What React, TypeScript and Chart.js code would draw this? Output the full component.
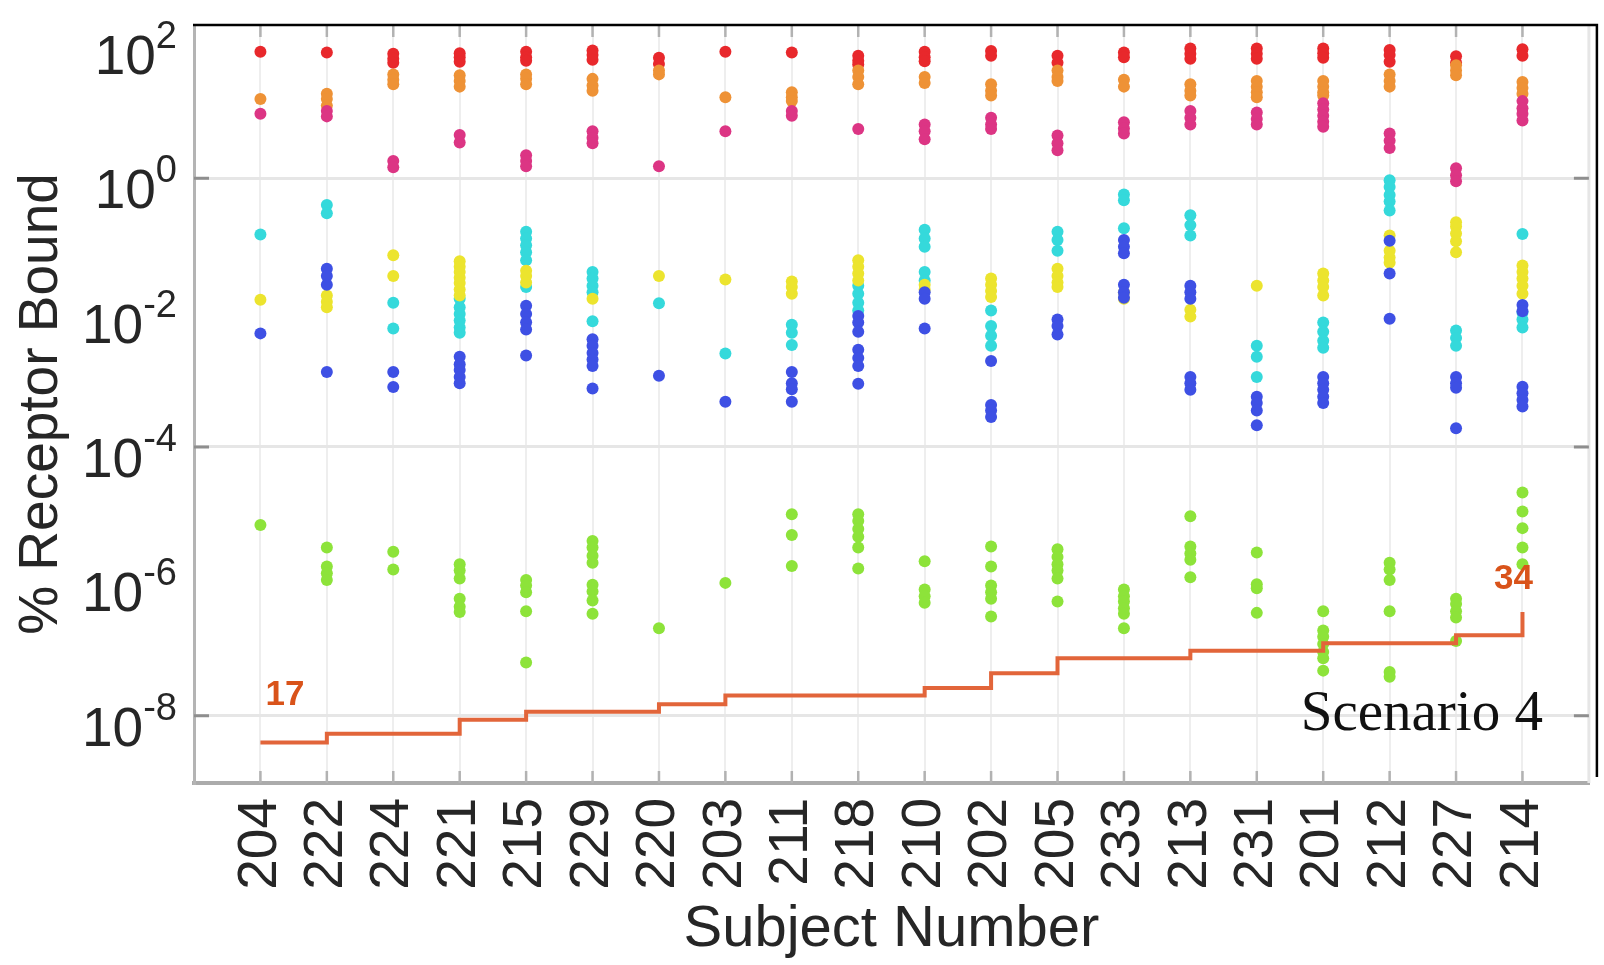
import { useEffect, useRef } from 'react';
import { Chart, registerables } from 'chart.js';

Chart.register(...registerables);

const SANS = "'Liberation Sans', Arial, Helvetica, sans-serif";
const SERIF = "'Liberation Serif', 'Times New Roman', serif";

const subjects = ['204', '222', '224', '221', '215', '229', '220', '203', '211', '218', '210', '202', '205', '233', '213', '231', '201', '212', '227', '214'];

const yTickValues = [1e2, 1e0, 1e-2, 1e-4, 1e-6, 1e-8];
const yTickExponents = ['2', '0', '-2', '-4', '-6', '-8'];
const yGridValues = [1e0, 1e-4, 1e-8];

const redVals: number[][] = [
  [76], [74], [71, 60, 52], [72, 63, 54], [76, 63, 56], [79, 68, 58], [62, 50], [76], [74], [66, 56, 49],
  [76, 63, 55], [78, 66], [66, 52], [74, 63], [85, 71, 60], [85, 71, 60], [85, 72, 62], [81, 68, 54], [65, 52], [83, 66],
];

const orangeVals: number[][] = [
  [15], [18, 15, 12], [35, 29, 25], [34, 28, 23], [35, 30, 25], [30, 24, 20], [40, 35], [16], [19, 16, 14], [40, 32, 25],
  [32, 26], [25, 20, 17], [40, 32, 28], [29, 23], [25, 20, 17], [28, 23, 19, 16], [28, 23, 19, 17], [35, 28, 23], [48, 40, 34], [27, 22, 18],
];

const magentaVals: number[][] = [
  [9.1], [10, 8.3], [1.8, 1.45], [4.4, 3.4], [2.2, 1.8, 1.5], [5.0, 4.0, 3.3], [1.5], [5.0], [10, 8.5], [5.4],
  [6.3, 5.0, 3.8], [7.9, 6.3, 5.4], [4.3, 3.3, 2.6], [6.8, 5.5, 4.6], [10, 7.9, 6.3], [9.5, 7.6, 6.3], [13, 10.5, 8.5, 6.9, 5.8], [4.6, 3.6, 2.8], [1.4, 1.1, 0.9], [14, 11, 9.1, 7.2],
];

const cyanVals: number[][] = [
  [0.145], [0.4, 0.3], [0.014, 0.0058], [0.016, 0.012, 0.0095, 0.0076, 0.006, 0.005], [0.16, 0.126, 0.1, 0.079, 0.06, 0.024],
  [0.04, 0.032, 0.025, 0.02, 0.0074], [0.0138], [0.00245], [0.0066, 0.005, 0.0033], [0.025, 0.019, 0.014, 0.0107],
  [0.17, 0.126, 0.095, 0.04, 0.03], [0.0107, 0.0063, 0.0045, 0.0032], [0.16, 0.12, 0.083], [0.57, 0.47, 0.18], [0.28, 0.2, 0.14],
  [0.0032, 0.0022, 0.0011], [0.0071, 0.0052, 0.0038, 0.003], [0.93, 0.74, 0.56, 0.45, 0.33], [0.0054, 0.0042, 0.0032], [0.148, 0.01, 0.0079, 0.006],
];

const yellowVals: number[][] = [
  [0.0155], [0.018, 0.0145, 0.012], [0.071, 0.035], [0.058, 0.048, 0.04, 0.033, 0.0275, 0.022, 0.018], [0.042, 0.035, 0.028],
  [0.016], [0.035], [0.031], [0.029, 0.024, 0.019], [0.06, 0.048, 0.038, 0.03],
  [0.026, 0.022], [0.032, 0.026, 0.021, 0.017], [0.045, 0.035, 0.028, 0.024], [0.02, 0.016], [0.011, 0.0087],
  [0.025], [0.038, 0.03, 0.024, 0.018], [0.14, 0.083, 0.066, 0.055], [0.22, 0.19, 0.15, 0.115, 0.079], [0.05, 0.04, 0.032, 0.025, 0.019],
];

const blueVals: number[][] = [
  [0.0049], [0.045, 0.035, 0.026, 0.0013], [0.0013, 0.00078], [0.0022, 0.0017, 0.0014, 0.0011, 0.00089], [0.0126, 0.0095, 0.0072, 0.0056, 0.0023],
  [0.004, 0.0032, 0.0025, 0.002, 0.0016, 0.00074], [0.00115], [0.00047], [0.0013, 0.00089, 0.00072, 0.00047], [0.0089, 0.0071, 0.0052, 0.0028, 0.0021, 0.0016, 0.00087],
  [0.02, 0.016, 0.0058], [0.0019, 0.00042, 0.00035, 0.00028], [0.0079, 0.0063, 0.0047], [0.12, 0.095, 0.076, 0.026, 0.02, 0.0166], [0.025, 0.02, 0.016, 0.0011, 0.00089, 0.00071],
  [0.00056, 0.00045, 0.00035, 0.00021], [0.0011, 0.00089, 0.00071, 0.00056, 0.00045], [0.117, 0.038, 0.0081], [0.0011, 0.00089, 0.00076, 0.00019], [0.013, 0.0105, 0.00079, 0.00063, 0.0005, 0.0004],
];

const greenVals: number[][] = [
  [6.9e-6], [3.2e-6, 1.66e-6, 1.32e-6, 1.05e-6], [2.75e-6, 1.5e-6], [1.8e-6, 1.45e-6, 1.1e-6, 5.5e-7, 4.2e-7, 3.5e-7], [1.05e-6, 8.7e-7, 6.9e-7, 3.6e-7, 6.2e-8],
  [4e-6, 3.2e-6, 2.4e-6, 1.9e-6, 8.9e-7, 7.1e-7, 5.2e-7, 3.3e-7], [2.0e-7], [9.5e-7], [1.0e-5, 4.9e-6, 1.7e-6], [1.0e-5, 7.9e-6, 6.0e-6, 4.6e-6, 3.2e-6, 1.55e-6],
  [2.0e-6, 7.6e-7, 6.0e-7, 4.8e-7], [3.3e-6, 1.66e-6, 8.7e-7, 6.9e-7, 5.5e-7, 3.0e-7], [3.0e-6, 2.3e-6, 1.8e-6, 1.45e-6, 1.1e-6, 5e-7], [7.6e-7, 6e-7, 5e-7, 4e-7, 3.3e-7, 2e-7], [9.3e-6, 3.3e-6, 2.6e-6, 2.1e-6, 1.15e-6],
  [2.7e-6, 9.1e-7, 7.9e-7, 3.4e-7], [3.6e-7, 1.86e-7, 1.5e-7, 1.17e-7, 8.9e-8, 7.2e-8, 4.7e-8], [1.9e-6, 1.5e-6, 1.05e-6, 3.6e-7, 4.5e-8, 3.8e-8], [5.5e-7, 4.6e-7, 3.6e-7, 2.9e-7, 1.3e-7], [2.1e-5, 1.1e-5, 6.2e-6, 3.2e-6, 1.8e-6],
];

const stepLine = [4.0e-9, 5.4e-9, 5.4e-9, 8.7e-9, 1.15e-8, 1.15e-8, 1.48e-8, 2.0e-8, 2.0e-8, 2.0e-8, 2.6e-8, 4.3e-8, 7.2e-8, 7.2e-8, 9.3e-8, 9.3e-8, 1.2e-7, 1.2e-7, 1.58e-7, 3.5e-7];
const stepStartLabel = '17';
const stepEndLabel = '34';
const scenarioLabel = 'Scenario 4';

const groups = [
  { name: 'red', vals: redVals, color: '#E8282C' },
  { name: 'orange', vals: orangeVals, color: '#EE9236' },
  { name: 'magenta', vals: magentaVals, color: '#DC3584' },
  { name: 'cyan', vals: cyanVals, color: '#35D9DB' },
  { name: 'yellow', vals: yellowVals, color: '#ECE42E' },
  { name: 'blue', vals: blueVals, color: '#3E50E4' },
  { name: 'green', vals: greenVals, color: '#8DE33A' },
];

const toPoints = (vals: number[][]) => vals.flatMap((arr, i) => arr.map((v) => ({ x: i, y: v })));

const decorPlugin = {
  id: 'decor',
  beforeDatasetsDraw(chart: any) {
    const { ctx, chartArea: a, scales } = chart;
    const xs = scales.x;
    const ys = scales.y;
    ctx.save();
    ctx.strokeStyle = '#e6e6e6';
    ctx.lineWidth = 3;
    ctx.beginPath();
    ctx.moveTo(a.right, a.top);
    ctx.lineTo(a.right, a.bottom);
    ctx.stroke();
    ctx.strokeStyle = '#b2b2b2';
    ctx.lineWidth = 2.5;
    subjects.forEach((_, i) => {
      const px = xs.getPixelForValue(i);
      ctx.beginPath();
      ctx.moveTo(px, a.bottom);
      ctx.lineTo(px, a.bottom - 12);
      ctx.moveTo(px, a.top);
      ctx.lineTo(px, a.top + 12);
      ctx.stroke();
    });
    ctx.strokeStyle = '#8e8e8e';
    ctx.lineWidth = 3;
    yGridValues.forEach((v) => {
      const py = ys.getPixelForValue(v);
      ctx.beginPath();
      ctx.moveTo(a.left, py);
      ctx.lineTo(a.left + 15, py);
      ctx.moveTo(a.right, py);
      ctx.lineTo(a.right - 15, py);
      ctx.stroke();
    });
    ctx.restore();
  },
  afterDraw(chart: any) {
    const { ctx, chartArea: a, scales } = chart;
    const xs = scales.x;
    const ys = scales.y;
    ctx.save();
    ctx.strokeStyle = '#000';
    ctx.lineWidth = 2.5;
    ctx.beginPath();
    ctx.moveTo(a.left - 1, a.top);
    ctx.lineTo(a.right + 8, a.top);
    ctx.lineTo(a.right + 8, a.bottom - 6);
    ctx.stroke();

    ctx.fillStyle = '#262626';
    ctx.textAlign = 'left';
    ctx.textBaseline = 'alphabetic';
    const rightEdge = a.left - 17;
    yTickValues.forEach((v, k) => {
      const py = ys.getPixelForValue(v);
      const exp = yTickExponents[k];
      ctx.font = `38px ${SANS}`;
      const supW = ctx.measureText(exp).width;
      ctx.fillText(exp, rightEdge - supW, py + 4);
      ctx.font = `55px ${SANS}`;
      const baseW = ctx.measureText('10').width;
      ctx.fillText('10', rightEdge - supW - baseW, py + 30);
    });

    ctx.fillStyle = '#D9531A';
    ctx.font = `bold 35px ${SANS}`;
    ctx.textAlign = 'left';
    ctx.fillText(stepStartLabel, xs.getPixelForValue(0) + 5, ys.getPixelForValue(stepLine[0]) - 38);
    ctx.textAlign = 'center';
    ctx.fillText(stepEndLabel, xs.getPixelForValue(19) - 9, ys.getPixelForValue(stepLine[19]) - 23);

    ctx.fillStyle = '#111';
    ctx.font = `57px ${SERIF}`;
    ctx.textAlign = 'right';
    ctx.fillText(scenarioLabel, a.right - 46, ys.getPixelForValue(1e-8) + 14);
    ctx.restore();
  },
};

export default function App() {
  const ref = useRef<HTMLCanvasElement>(null);
  useEffect(() => {
    const canvas = ref.current;
    if (!canvas) return;
    const datasets: any[] = [
      {
        type: 'line',
        label: 'threshold',
        data: stepLine.map((v, i) => ({ x: i, y: v })),
        stepped: 'before',
        borderColor: '#E2653A',
        borderWidth: 4,
        pointRadius: 0,
        fill: false,
      },
      ...groups
        .slice()
        .reverse()
        .map((g) => ({
          type: 'scatter',
          label: g.name,
          data: toPoints(g.vals),
          backgroundColor: g.color,
          borderWidth: 0,
          pointRadius: 6,
          pointHoverRadius: 6,
        })),
    ];
    const chart = new Chart(canvas, {
      type: 'scatter',
      data: { datasets },
      plugins: [decorPlugin],
      options: {
        responsive: false,
        devicePixelRatio: 1,
        animation: false,
        events: [],
        layout: { padding: { left: 0, top: 25, right: 11, bottom: 0 } },
        plugins: { legend: { display: false }, tooltip: { enabled: false } },
        scales: {
          x: {
            type: 'linear',
            position: 'bottom',
            min: -1,
            max: 20,
            afterBuildTicks: (s: any) => {
              s.ticks = subjects.map((_, i) => ({ value: i }));
            },
            afterFit: (s: any) => {
              s.height = 182;
            },
            ticks: {
              autoSkip: false,
              minRotation: 90,
              maxRotation: 90,
              padding: 15,
              color: '#262626',
              font: { size: 55, family: SANS },
              callback: (v: any) => subjects[Number(v)] ?? '',
            },
            grid: { color: '#eeeeee', lineWidth: 2, drawTicks: false },
            border: { display: true, color: '#ababab', width: 4 },
            title: {
              display: true,
              text: 'Subject Number',
              color: '#262626',
              font: { size: 58, family: SANS, lineHeight: 1.2 },
              padding: { top: 0, bottom: 0 },
            },
          },
          y: {
            type: 'logarithmic',
            min: 1e-9,
            max: 190,
            afterBuildTicks: (s: any) => {
              s.ticks = yTickValues.map((v) => ({ value: v }));
            },
            afterFit: (s: any) => {
              s.width = 194;
            },
            ticks: { display: false },
            grid: {
              drawTicks: false,
              lineWidth: 3,
              color: (c: any) => (c.tick && yGridValues.includes(c.tick.value) ? '#e6e6e6' : 'rgba(0,0,0,0)'),
            },
            border: { display: true, color: '#b4b4b4', width: 3 },
            title: {
              display: true,
              text: '% Receptor Bound',
              color: '#262626',
              font: { size: 55, family: SANS, lineHeight: 1.2 },
              padding: { top: 9, bottom: 0 },
            },
          },
        },
      } as any,
    } as any);
    return () => chart.destroy();
  }, []);
  return (
    <div style={{ position: 'absolute', left: 0, top: 0, width: 1604, height: 965, background: '#fff', overflow: 'hidden' }}>
      <canvas ref={ref} width={1604} height={965} style={{ display: 'block', width: 1604, height: 965 }} />
    </div>
  );
}
